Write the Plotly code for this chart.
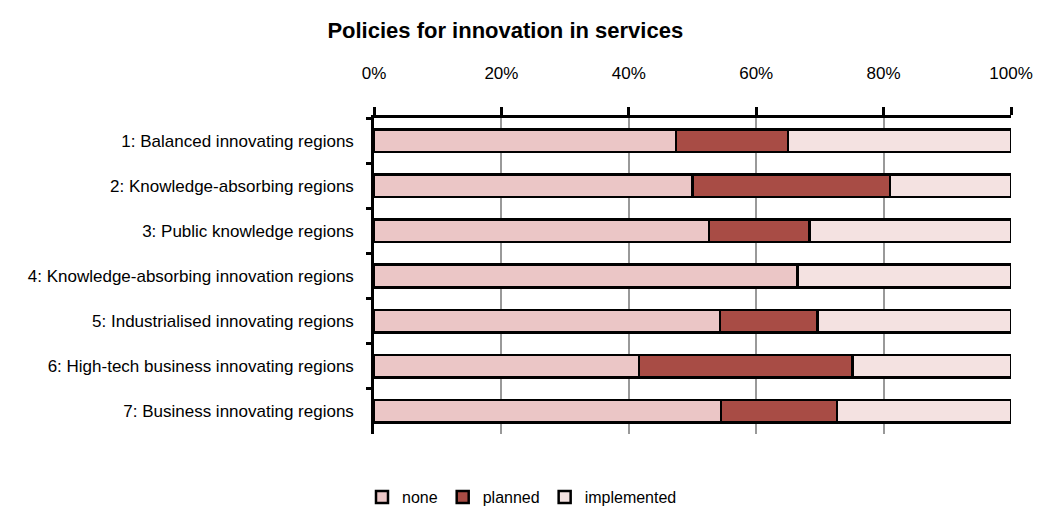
import plotly.graph_objects as go

categories = [
    "1: Balanced innovating regions",
    "2: Knowledge-absorbing regions",
    "3: Public knowledge regions",
    "4: Knowledge-absorbing innovation regions",
    "5: Industrialised innovating regions",
    "6: High-tech business innovating regions",
    "7: Business innovating regions",
]
none_pct = [47.4, 50.0, 52.6, 66.5, 54.3, 41.6, 54.5]
planned_pct = [17.6, 31.0, 15.8, 0.0, 15.3, 33.5, 18.2]
implemented_pct = [100 - n - p for n, p in zip(none_pct, planned_pct)]

series = [
    ("none", none_pct, "#EBC6C6"),
    ("planned", planned_pct, "#A84C45"),
    ("implemented", implemented_pct, "#F4E2E1"),
]

FONT = "Liberation Sans Narrow, Arial Narrow, Liberation Sans, Arial, sans-serif"

fig = go.Figure()
for name, vals, color in series:
    fig.add_trace(go.Bar(
        y=categories, x=vals, name=name, orientation="h",
        width=0.5,
        marker=dict(color=color, line=dict(color="black", width=2.5)),
    ))

fig.update_layout(
    barmode="stack",
    width=1044, height=515,
    paper_bgcolor="white", plot_bgcolor="white",
    margin=dict(l=374, r=33, t=118, b=81),
    font=dict(family=FONT, size=17, color="black"),
    title=dict(text="<b>Policies for innovation in services</b>",
               xref="container", x=0.484, xanchor="center",
               yref="container", y=0.942, yanchor="middle",
               font=dict(family=FONT, size=22, color="black")),
    legend=dict(orientation="h", xref="container", x=0.5, xanchor="center",
                yref="container", y=0.035, yanchor="middle",
                font=dict(family=FONT, size=16), traceorder="normal",
                itemwidth=30, bgcolor="rgba(0,0,0,0)"),
    bargap=0.5,
)
fig.update_xaxes(
    side="top", range=[0, 100], tickvals=[0, 20, 40, 60, 80, 100],
    ticktext=["0%", "20%", "40%", "60%", "80%", "100%"],
    showgrid=True, gridcolor="#999999", gridwidth=1.5,
    showline=True, linecolor="black", linewidth=2.5,
    ticks="outside", ticklen=8, tickwidth=2.5, tickcolor="black",
    ticklabelstandoff=21, zeroline=False, fixedrange=True, automargin=False,
)
fig.update_yaxes(
    autorange="reversed", type="category",
    showline=True, linecolor="black", linewidth=2.5,
    ticks="outside", tickson="boundaries", ticklen=5, tickwidth=2.5, tickcolor="black",
    ticklabelstandoff=14, showgrid=False, fixedrange=True, automargin=False,
)

fig.write_html("out.html")
